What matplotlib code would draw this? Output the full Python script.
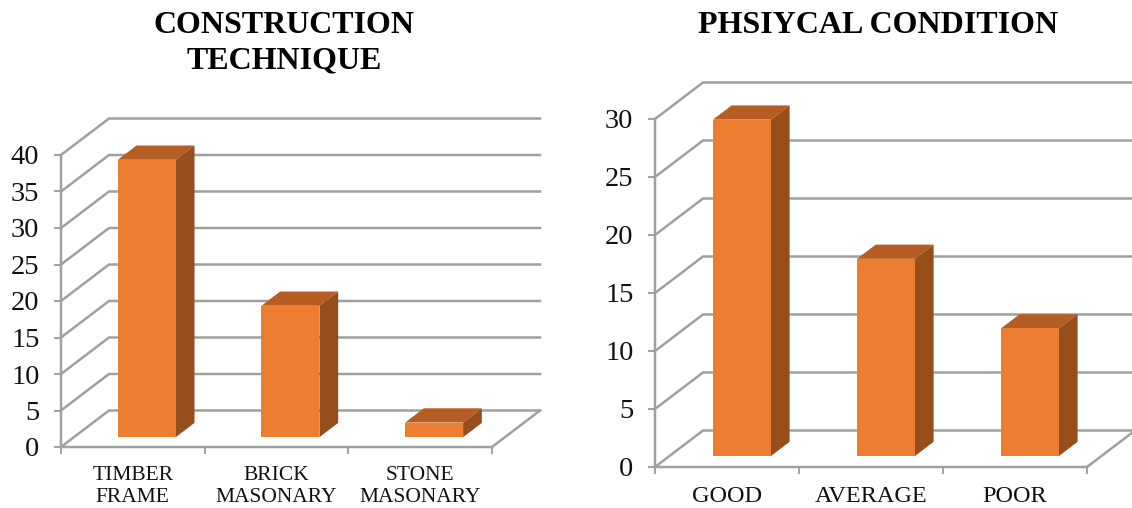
import matplotlib
matplotlib.use("Agg")
import matplotlib.pyplot as plt
from matplotlib.patches import Polygon

plt.rcParams['font.family'] = ['Liberation Serif', 'DejaVu Serif']

# Data
left_title = "CONSTRUCTION\nTECHNIQUE"
left_categories = ["TIMBER\nFRAME", "BRICK\nMASONARY", "STONE\nMASONARY"]
left_values = [38, 18, 2]
left_ticks = [0, 5, 10, 15, 20, 25, 30, 35, 40]

right_title = "PHSIYCAL CONDITION"
right_categories = ["GOOD", "AVERAGE", "POOR"]
right_values = [29, 17, 11]
right_ticks = [0, 5, 10, 15, 20, 25, 30]

W, H = 1132, 508
GRID = "#A0A0A0"
FRONT = "#ED7D31"
TOP = "#B55D22"
SIDE = "#964F1C"
PX = 72 / 100


def panel(box, categories, values, ticks, title, title_xy, label_size, label_pad, d0, x_nudge):
    x0, x1, ytop, ybot = box
    ax = fig.add_axes([x0 / W, 1 - ybot / H, (x1 - x0) / W, (ybot - ytop) / H])
    n = len(categories)
    ax.set_xlim(0, n)
    ax.set_ylim(0, ticks[-1])
    ax.patch.set_visible(False)

    # depth vector of the floor, in data units
    ppx = n / (x1 - x0)
    ppy = ticks[-1] / (ybot - ytop)
    dx, dy = 48 * ppx, 36.5 * ppy

    for t in ticks:
        ax.plot([0, dx, n + dx], [t, t + dy, t + dy], color=GRID, lw=2.5 * PX,
                clip_on=False, zorder=1, solid_joinstyle="miter")
    ax.plot([n, n + dx], [0, dy], color=GRID, lw=2.5 * PX, clip_on=False, zorder=1)

    width = 58 * ppx
    d1 = d0 + 0.39
    for i, v in enumerate(values):
        xa = i + 0.5 - width / 2 + d0 * dx + x_nudge * ppx
        xb = xa + width
        y0 = d0 * dy
        ddx, ddy = (d1 - d0) * dx, (d1 - d0) * dy
        ax.add_patch(Polygon([(xa, y0 + v), (xb, y0 + v), (xb + ddx, y0 + v + ddy),
                              (xa + ddx, y0 + v + ddy)], closed=True, fc=TOP, ec="none",
                             clip_on=False, zorder=3))
        ax.add_patch(Polygon([(xb, y0), (xb + ddx, y0 + ddy), (xb + ddx, y0 + v + ddy),
                              (xb, y0 + v)], closed=True, fc=SIDE, ec="none",
                             clip_on=False, zorder=3))
        ax.bar([xa], [v], width=width, bottom=y0, align="edge", color=FRONT,
               clip_on=False, zorder=4)

    for s in ("top", "right"):
        ax.spines[s].set_visible(False)
    for s in ("left", "bottom"):
        ax.spines[s].set_color(GRID)
        ax.spines[s].set_linewidth(2.5 * PX)
    ax.set_yticks(ticks)
    ax.set_yticklabels([str(t) for t in ticks], fontsize=20.5, color="#111111")
    ax.tick_params(axis="y", length=5, width=1.4, color=GRID, pad=10.5)
    ax.set_xticks(range(n + 1))
    ax.set_xticklabels([])
    ax.tick_params(axis="x", which="major", length=5, width=1.4, color=GRID)
    ax.set_xticks([i + 0.5 for i in range(n)], minor=True)
    ax.set_xticklabels(categories, minor=True, fontsize=label_size, linespacing=1.25,
                       color="#111111")
    ax.tick_params(axis="x", which="minor", length=0, pad=label_pad)

    fig.text(title_xy[0] / W, 1 - title_xy[1] / H, title, ha="center", va="top",
             fontsize=23, fontweight="bold", linespacing=1.3, color="black")


fig = plt.figure(figsize=(W / 100, H / 100), dpi=100, facecolor="white")
panel((61, 492, 155, 447), left_categories, left_values, left_ticks, left_title, (284, 11),
      15.5, 13.5, 0.27, 1.0)
panel((655, 1087, 119, 467), right_categories, right_values, right_ticks, right_title, (878, 11),
      17.5, 14, 0.30, 0.5)
fig.savefig("out.png", dpi=100, facecolor="white")
